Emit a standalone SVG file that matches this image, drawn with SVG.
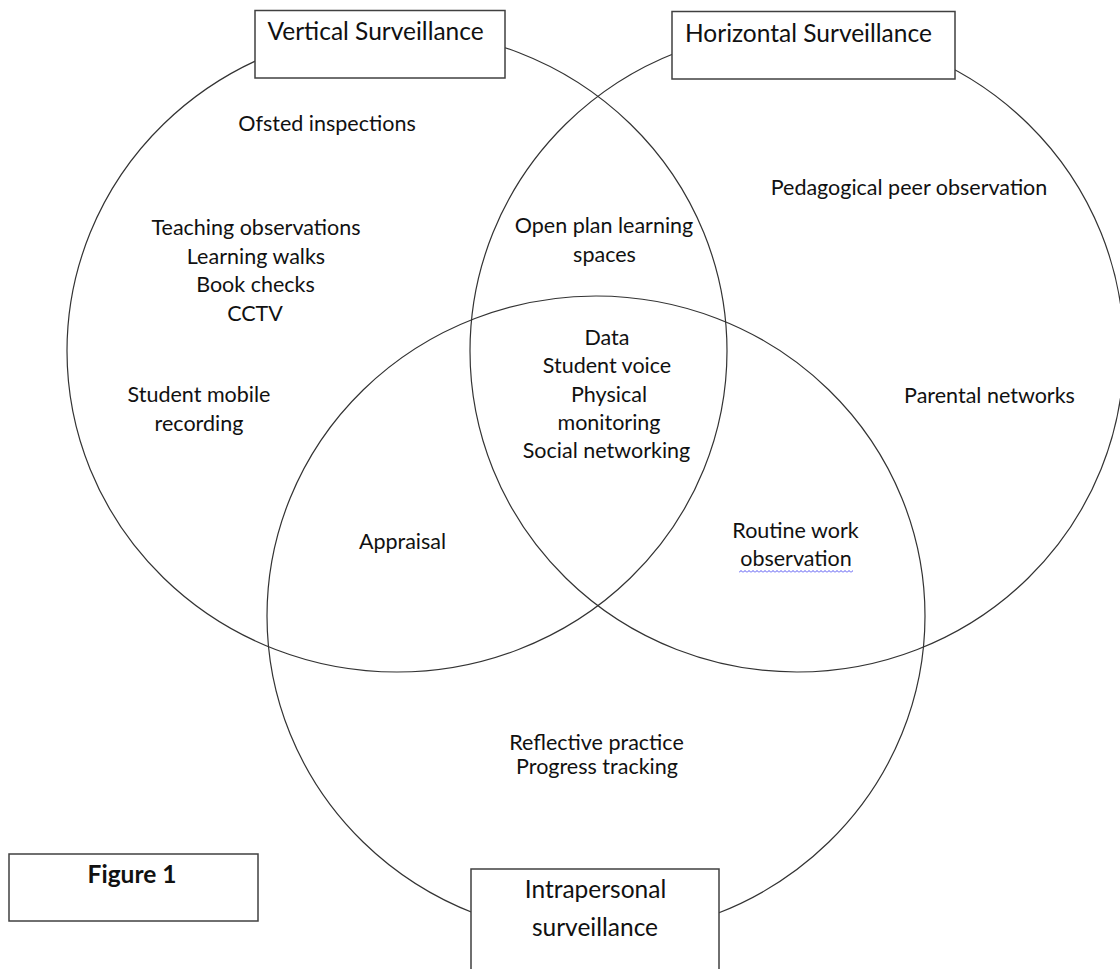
<svg xmlns="http://www.w3.org/2000/svg" width="1120" height="969" viewBox="0 0 1120 969">
  <defs>
    <style>
      .set { fill: none; stroke: #333333; stroke-width: 1.2; }
      .box { fill: #ffffff; stroke: #404040; stroke-width: 1.5; }
      .t { font-family: Lato, "Liberation Sans", sans-serif; font-size: 21.5px; fill: #111111; text-anchor: middle; }
      .title { font-family: Lato, "Liberation Sans", sans-serif; font-size: 24.5px; fill: #111111; }
      .fig { font-family: Lato, "Liberation Sans", sans-serif; font-size: 24.5px; font-weight: bold; fill: #111111; text-anchor: middle; }
    </style>
    <pattern id="wave" x="739" y="570" width="4" height="3" patternUnits="userSpaceOnUse">
      <path d="M0,2.5 L2,0.5 L4,2.5" fill="none" stroke="#3b3bf0" stroke-width="0.9"/>
    </pattern>
  </defs>
  <rect width="1120" height="969" fill="#ffffff"/>

  <g id="set-outlines">
    <ellipse id="vertical-circle" class="set" cx="397" cy="351" rx="330" ry="321"/>
    <ellipse id="horizontal-circle" class="set" cx="797" cy="351" rx="327" ry="321"/>
    <ellipse id="intrapersonal-circle" class="set" cx="596" cy="616" rx="329" ry="320"/>
  </g>

  <g id="connectors"/>

  <g id="vertical-surveillance">
    <rect class="box" x="255" y="10.5" width="250" height="67.5"/>
    <text class="title" x="267.5" y="39.5">Vertical Surveillance</text>
  </g>

  <g id="horizontal-surveillance">
    <rect class="box" x="672" y="11.5" width="283" height="67.5"/>
    <text class="title" x="685" y="41.5">Horizontal Surveillance</text>
  </g>

  <g id="intrapersonal-surveillance">
    <rect class="box" x="471" y="869" width="248" height="110"/>
    <text class="title" x="595.5" y="898" text-anchor="middle">Intrapersonal</text>
    <text class="title" x="595" y="936" text-anchor="middle">surveillance</text>
  </g>

  <g id="figure-1">
    <rect class="box" x="9" y="854" width="249" height="67"/>
    <text class="fig" x="132" y="883">Figure 1</text>
  </g>

  <g id="vertical-only">
    <text class="t" x="327" y="131">Ofsted inspections</text>
    <text class="t" x="256" y="235">Teaching observations</text>
    <text class="t" x="256" y="263.5">Learning walks</text>
    <text class="t" x="255.5" y="292">Book checks</text>
    <text class="t" x="255" y="320.5">CCTV</text>
    <text class="t" x="199" y="402">Student mobile</text>
    <text class="t" x="199" y="431">recording</text>
  </g>

  <g id="vertical-horizontal">
    <text class="t" x="604" y="233">Open plan learning</text>
    <text class="t" x="604.5" y="262">spaces</text>
  </g>

  <g id="horizontal-only">
    <text class="t" x="909" y="195">Pedagogical peer observation</text>
    <text class="t" x="989.5" y="403">Parental networks</text>
  </g>

  <g id="all-three">
    <text class="t" x="607" y="345">Data</text>
    <text class="t" x="607" y="373">Student voice</text>
    <text class="t" x="609" y="402">Physical</text>
    <text class="t" x="609" y="430">monitoring</text>
    <text class="t" x="606.5" y="458">Social networking</text>
  </g>

  <g id="vertical-intrapersonal">
    <text class="t" x="402.5" y="549">Appraisal</text>
  </g>

  <g id="horizontal-intrapersonal">
    <text class="t" x="795.5" y="538">Routine work</text>
    <text class="t" x="796" y="566">observation</text>
    <rect x="739" y="570" width="114" height="3" fill="url(#wave)"/>
  </g>

  <g id="intrapersonal-only">
    <text class="t" x="596.5" y="750">Reflective practice</text>
    <text class="t" x="597" y="774">Progress tracking</text>
  </g>
</svg>
